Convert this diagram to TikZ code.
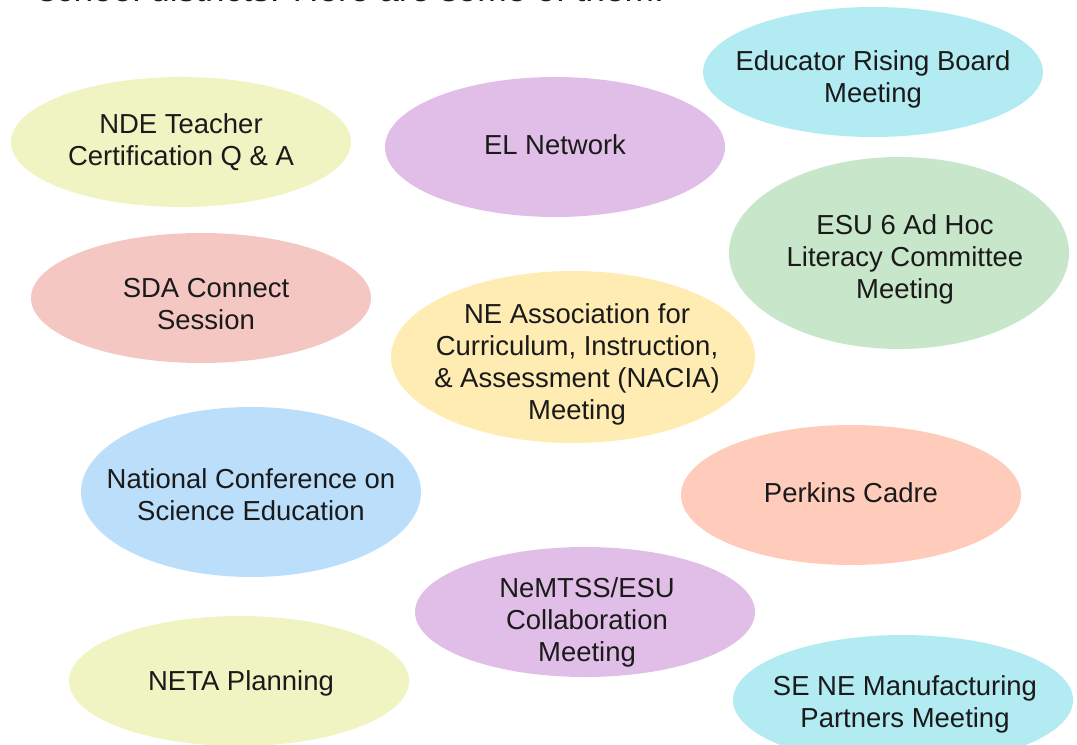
\documentclass[tikz,border=0pt]{standalone}
\usepackage{fontspec}
\setmainfont{Liberation Sans}
\usetikzlibrary{shapes.geometric}
\definecolor{cLime}{HTML}{F0F4C3}
\definecolor{cPurple}{HTML}{E1BEE7}
\definecolor{cCyan}{HTML}{B2EBF2}
\definecolor{cGreen}{HTML}{C8E6C9}
\definecolor{cRed}{HTML}{F4C7C3}
\definecolor{cAmber}{HTML}{FFECB3}
\definecolor{cBlue}{HTML}{BBDEFB}
\definecolor{cOrange}{HTML}{FFCCBC}
\definecolor{cText}{HTML}{1A1A1A}
\tikzset{
  bubble/.style={ellipse, draw=none, inner sep=0pt, text=cText, align=center,
    font=\fontsize{20.6pt}{24pt}\selectfont},
}
\newcommand{\bub}[6]{%
  \path[fill=#6] (#2,#3) ellipse [x radius=#4, y radius=#5];}
\begin{document}
\begin{tikzpicture}[x=0.75pt,y=-0.75pt]
\useasboundingbox (0,0) rectangle (1077,745);
\node[anchor=base west, inner sep=0pt, text=cText, font=\fontsize{26.5pt}{30pt}\selectfont] (title) at (38,2) {school districts. Here are some of them.};
% ellipses
\bub{a}{181}{142}{170}{65}{cLime}
\node[bubble] (nde) at (181,142) {NDE Teacher\\Certification Q \& A};
\bub{b}{555}{147}{170}{70}{cPurple}
\node[bubble] (el) at (555,145) {EL Network};
\bub{c}{873}{72}{170}{65}{cCyan}
\node[bubble] (edu) at (873,79) {Educator Rising Board\\Meeting};
\bub{d}{899}{253}{170}{96}{cGreen}
\node[bubble] (esu) at (905,259) {ESU 6 Ad Hoc\\Literacy Committee\\Meeting};
\bub{e}{201}{298}{170}{65}{cRed}
\node[bubble] (sda) at (206,304) {SDA Connect\\Session};
\bub{f}{573}{357}{182}{86}{cAmber}
\node[bubble] (nacia) at (577,364) {NE Association for\\Curriculum, Instruction,\\\& Assessment (NACIA)\\Meeting};
\bub{g}{251}{492}{170}{85}{cBlue}
\node[bubble] (ncse) at (251,495) {National Conference on\\Science Education};
\bub{h}{851}{495}{170}{70}{cOrange}
\node[bubble] (perk) at (851,493) {Perkins Cadre};
\bub{i}{585}{612}{170}{65}{cPurple}
\node[bubble] (nemtss) at (587,622) {NeMTSS/ESU\\Collaboration\\Meeting};
\bub{j}{239}{681}{170}{65}{cLime}
\node[bubble] (neta) at (241,683) {NETA Planning};
\bub{k}{903}{700}{170}{65}{cCyan}
\node[bubble] (sene) at (905,704) {SE NE Manufacturing\\Partners Meeting};
\end{tikzpicture}
\end{document}
